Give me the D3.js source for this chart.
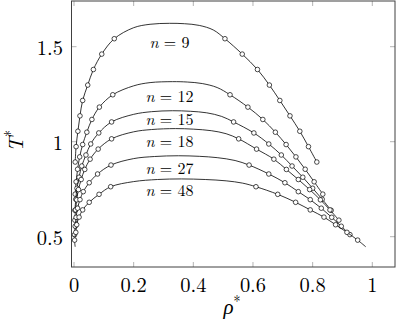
<!DOCTYPE html>
<html>
<head>
<meta charset="utf-8">
<script src="https://cdn.jsdelivr.net/npm/d3@7"></script>
<style>
body { margin: 0; background: #fff; }
</style>
</head>
<body>
<div id="chart"></div>
<script>
// chain lengths of the series
var chainLengths = [9, 12, 15, 18, 27, 48];

// temperatures of the simulated points (one row per chain length)
var pointT = [
	[1.542, 1.461, 1.380, 1.298, 1.217, 1.136, 1.055, 0.974, 0.893],
	[1.247, 1.182, 1.117, 1.050, 0.985, 0.920, 0.855, 0.789, 0.724],
	[1.104, 1.046, 0.988, 0.930, 0.872, 0.813, 0.755, 0.697, 0.639],
	[1.015, 0.961, 0.908, 0.854, 0.801, 0.748, 0.694, 0.641, 0.587],
	[0.877, 0.830, 0.784, 0.737, 0.695, 0.650, 0.602, 0.555, 0.511],
	[0.763, 0.723, 0.681, 0.641, 0.603, 0.563, 0.523, 0.482]
];

// vapour branch densities
var gasRho = [
	[0.135, 0.093, 0.065, 0.046, 0.029, 0.020, 0.013, 0.007, 0.004],
	[0.130, 0.085, 0.060, 0.043, 0.029, 0.019, 0.012, 0.007, 0.004],
	[0.126, 0.083, 0.056, 0.040, 0.026, 0.017, 0.010, 0.006, 0.003],
	[0.126, 0.081, 0.054, 0.036, 0.024, 0.015, 0.009, 0.005, 0.003],
	[0.124, 0.079, 0.051, 0.031, 0.020, 0.012, 0.007, 0.004, 0.002],
	[0.123, 0.084, 0.051, 0.029, 0.017, 0.009, 0.006, 0.002]
];

// liquid branch densities
var liqRho = [
	[0.506, 0.564, 0.615, 0.655, 0.690, 0.724, 0.757, 0.786, 0.814],
	[0.523, 0.583, 0.633, 0.675, 0.711, 0.744, 0.775, 0.805, 0.834],
	[0.535, 0.603, 0.653, 0.695, 0.731, 0.767, 0.800, 0.832, 0.862],
	[0.552, 0.612, 0.670, 0.712, 0.752, 0.790, 0.826, 0.858, 0.888],
	[0.587, 0.653, 0.707, 0.752, 0.792, 0.829, 0.864, 0.896, 0.925],
	[0.610, 0.683, 0.743, 0.792, 0.838, 0.877, 0.915, 0.951]
];

// fitted curve near the critical point, [rho, T]
var fitTop = [
	[[0.200, 1.600], [0.255, 1.618], [0.320, 1.623], [0.370, 1.621], [0.420, 1.612], [0.467, 1.588]],
	[[0.200, 1.294], [0.255, 1.311], [0.330, 1.316], [0.380, 1.314], [0.430, 1.306], [0.480, 1.285]],
	[[0.200, 1.144], [0.260, 1.158], [0.330, 1.163], [0.390, 1.160], [0.445, 1.152], [0.495, 1.133]],
	[[0.200, 1.052], [0.260, 1.064], [0.340, 1.069], [0.400, 1.066], [0.460, 1.058], [0.510, 1.042]],
	[[0.200, 0.911], [0.270, 0.922], [0.350, 0.926], [0.420, 0.923], [0.480, 0.916], [0.540, 0.901]],
	[[0.200, 0.790], [0.280, 0.801], [0.360, 0.804], [0.440, 0.801], [0.510, 0.794], [0.565, 0.782]]
];

// low temperature ends of the fitted curve, [gas, liquid] as [rho, T]
var fitEnds = [
	[[0.004, 0.893], [0.814, 0.893]],
	[[0.004, 0.724], [0.834, 0.724]],
	[[0.003, 0.639], [0.862, 0.639]],
	[[0.003, 0.587], [0.888, 0.587]],
	[[0.002, 0.511], [0.925, 0.511]],
	[[0.004, 0.447], [0.978, 0.447]]
];

// label anchor points, [rho, T]
var labelAt = [[0.32, 1.530], [0.32, 1.245], [0.32, 1.123], [0.32, 1.008], [0.32, 0.866], [0.32, 0.752]];

var xTicks = [0, 0.2, 0.4, 0.6, 0.8, 1];
var yTicks = [0.5, 1, 1.5];

var width = 396, height = 325;
var box = {left: 71.5, right: 395, top: 1, bottom: 267};
var serif = "Latin Modern Roman";

var svg = d3.select("#chart").append("svg")
	.attr("width", width)
	.attr("height", height)
	.attr("font-family", serif);

var x = d3.scaleLinear().domain([-0.0084, 1.0761]).range([box.left, box.right]);
var y = d3.scaleLinear().domain([0.3405, 1.7405]).range([box.bottom, box.top]);

// ticks (inside, on all four sides)
var tickLen = 5;
var tickG = svg.append("g").attr("stroke", "#a0a0a0").attr("stroke-width", 0.8);
xTicks.forEach(function(t){
	tickG.append("line").attr("x1", x(t)).attr("x2", x(t)).attr("y1", box.bottom).attr("y2", box.bottom - tickLen);
	tickG.append("line").attr("x1", x(t)).attr("x2", x(t)).attr("y1", box.top).attr("y2", box.top + tickLen);
});
yTicks.forEach(function(t){
	tickG.append("line").attr("y1", y(t)).attr("y2", y(t)).attr("x1", box.left).attr("x2", box.left + tickLen);
	tickG.append("line").attr("y1", y(t)).attr("y2", y(t)).attr("x1", box.right).attr("x2", box.right - tickLen);
});

// curves and markers
var line = d3.line()
	.x(function(d){ return x(d[0]); })
	.y(function(d){ return y(d[1]); })
	.curve(d3.curveCatmullRom.alpha(0.5));

chainLengths.forEach(function(n, i){
	var gas = gasRho[i].map(function(r, k){ return [r, pointT[i][k]]; });
	var liq = liqRho[i].map(function(r, k){ return [r, pointT[i][k]]; });
	var pts = [fitEnds[i][0]]
		.concat(gas.slice().reverse())
		.concat(fitTop[i])
		.concat(liq)
		.concat([fitEnds[i][1]]);
	// drop duplicated end points
	pts = pts.filter(function(p, k){
		return k === 0 || p[0] !== pts[k-1][0] || p[1] !== pts[k-1][1];
	});

	svg.append("path")
		.attr("d", line(pts))
		.attr("fill", "none")
		.attr("stroke", "#000")
		.attr("stroke-width", 0.8);

	svg.append("g").selectAll("circle")
		.data(gas.concat(liq))
		.enter().append("circle")
		.attr("cx", function(d){ return x(d[0]); })
		.attr("cy", function(d){ return y(d[1]); })
		.attr("r", 2.3)
		.attr("fill", "#fff")
		.attr("stroke", "#000")
		.attr("stroke-width", 0.7);

	var lab = svg.append("text")
		.attr("x", x(labelAt[i][0]))
		.attr("y", y(labelAt[i][1]))
		.attr("text-anchor", "middle")
		.attr("dominant-baseline", "central")
		.attr("font-family", serif)
		.attr("font-size", 16);
	lab.append("tspan").attr("font-style", "italic").text("n");
	lab.append("tspan").text(" = " + n);
});

// frame
svg.append("rect")
	.attr("x", box.left).attr("y", box.top)
	.attr("width", box.right - box.left).attr("height", box.bottom - box.top)
	.attr("fill", "none").attr("stroke", "#404040").attr("stroke-width", 1);

// tick labels
svg.append("g").selectAll("text")
	.data(xTicks).enter().append("text")
	.attr("x", function(d){ return x(d); })
	.attr("y", 283)
	.attr("text-anchor", "middle")
	.attr("dominant-baseline", "central")
	.attr("font-family", serif)
	.attr("font-size", 20.5)
	.text(function(d){ return d3.format("")(d); });

svg.append("g").selectAll("text")
	.data(yTicks).enter().append("text")
	.attr("x", 63)
	.attr("y", function(d){ return y(d); })
	.attr("text-anchor", "end")
	.attr("dominant-baseline", "central")
	.attr("font-family", serif)
	.attr("font-size", 20.5)
	.text(function(d){ return d3.format("")(d); });

// axis labels
var xl = svg.append("text")
	.attr("x", 232).attr("y", 314)
	.attr("text-anchor", "middle")
	.attr("font-family", serif)
	.attr("font-size", 21);
xl.append("tspan").attr("font-style", "italic").text("ρ");
xl.append("tspan").attr("font-size", 14).attr("dy", -8).text("*");

var yl = svg.append("text")
	.attr("transform", "translate(23,141) rotate(-90)")
	.attr("text-anchor", "middle")
	.attr("font-family", serif)
	.attr("font-size", 21);
yl.append("tspan").attr("font-style", "italic").text("T");
yl.append("tspan").attr("font-size", 14).attr("dy", -8).text("*");
</script>
</body>
</html>
